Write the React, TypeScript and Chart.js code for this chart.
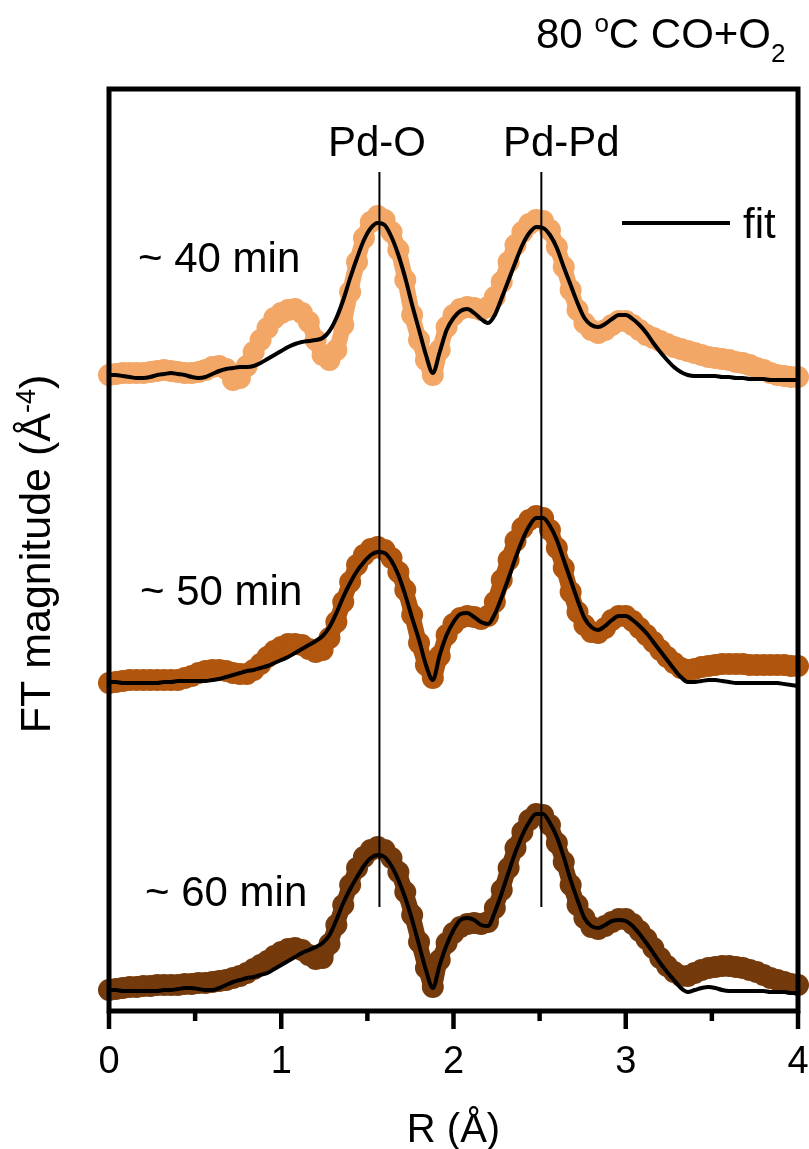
import React, { useEffect, useRef } from "react";
import { Chart, registerables } from "chart.js";

Chart.register(...registerables);

// R grid (Å)
const R = [
  0.00, 0.04, 0.08, 0.12, 0.16, 0.20, 0.24, 0.28, 0.32, 0.36,
  0.40, 0.44, 0.48, 0.52, 0.56, 0.60, 0.64, 0.68, 0.72, 0.76,
  0.80, 0.84, 0.88, 0.92, 0.96, 1.00, 1.04, 1.08, 1.12, 1.16,
  1.20, 1.24, 1.28, 1.32, 1.36, 1.40, 1.44, 1.48, 1.52, 1.56,
  1.60, 1.64, 1.68, 1.72, 1.76, 1.80, 1.84, 1.88, 1.92, 1.96,
  2.00, 2.04, 2.08, 2.12, 2.16, 2.20, 2.24, 2.28, 2.32, 2.36,
  2.40, 2.44, 2.48, 2.52, 2.56, 2.60, 2.64, 2.68, 2.72, 2.76,
  2.80, 2.84, 2.88, 2.92, 2.96, 3.00, 3.04, 3.08, 3.12, 3.16,
  3.20, 3.24, 3.28, 3.32, 3.36, 3.40, 3.44, 3.48, 3.52, 3.56,
  3.60, 3.64, 3.68, 3.72, 3.76, 3.80, 3.84, 3.88, 3.92, 3.96,
  4.00,
];

// ~40 min
const data40 = [
  0.00, 0.01, 0.02, 0.02, 0.02, 0.02, 0.03, 0.04, 0.05, 0.04,
  0.03, 0.02, 0.02, 0.03, 0.05, 0.08, 0.09, 0.06, -0.05, -0.03,
  0.09, 0.23, 0.35, 0.47, 0.57, 0.62, 0.65, 0.66, 0.62, 0.53,
  0.35, 0.20, 0.15, 0.25, 0.50, 0.83, 1.13, 1.37, 1.53, 1.59,
  1.55, 1.43, 1.25, 0.95, 0.60, 0.35, 0.15, 0.00, 0.25, 0.48,
  0.60, 0.66, 0.68, 0.67, 0.65, 0.68, 0.78, 0.93, 1.13, 1.30,
  1.43, 1.51, 1.55, 1.54, 1.45, 1.28, 1.08, 0.85, 0.65, 0.52,
  0.45, 0.42, 0.45, 0.50, 0.54, 0.54, 0.50, 0.45, 0.40, 0.37,
  0.34, 0.31, 0.28, 0.26, 0.24, 0.22, 0.20, 0.18, 0.17, 0.16,
  0.15, 0.13, 0.12, 0.10, 0.07, 0.05, 0.02, 0.00, -0.01, -0.02,
  -0.02,
];
const fit40 = [
  0.00, 0.00, -0.01, -0.02, -0.03, -0.03, -0.02, 0.00, 0.01, 0.02,
  0.01, 0.00, -0.02, -0.03, -0.02, 0.01, 0.04, 0.06, 0.07, 0.08,
  0.08, 0.09, 0.12, 0.16, 0.20, 0.24, 0.28, 0.31, 0.33, 0.34,
  0.35, 0.37, 0.44, 0.57, 0.75, 0.97, 1.17, 1.35, 1.47, 1.52,
  1.50, 1.38, 1.20, 0.97, 0.70, 0.45, 0.20, 0.02, 0.23, 0.45,
  0.57, 0.64, 0.66, 0.62, 0.56, 0.52, 0.60, 0.77, 0.95, 1.13,
  1.30, 1.42, 1.48, 1.47, 1.40, 1.27, 1.08, 0.90, 0.72, 0.57,
  0.50, 0.48, 0.51, 0.56, 0.60, 0.60, 0.56, 0.50, 0.42, 0.32,
  0.23, 0.15, 0.08, 0.03, 0.00, -0.01, -0.01, -0.01, -0.01, -0.02,
  -0.02, -0.03, -0.03, -0.04, -0.04, -0.04, -0.05, -0.05, -0.05, -0.05,
  -0.05,
];

// ~50 min
const data50 = [
  0.00, 0.01, 0.02, 0.03, 0.03, 0.03, 0.03, 0.03, 0.03, 0.03,
  0.03, 0.05, 0.07, 0.10, 0.12, 0.13, 0.13, 0.12, 0.10, 0.09,
  0.09, 0.13, 0.19, 0.26, 0.32, 0.36, 0.39, 0.39, 0.38, 0.34,
  0.31, 0.33, 0.45, 0.61, 0.81, 1.01, 1.18, 1.28, 1.34, 1.36,
  1.33, 1.25, 1.11, 0.93, 0.68, 0.40, 0.18, 0.05, 0.27, 0.48,
  0.59, 0.65, 0.67, 0.66, 0.64, 0.67, 0.81, 1.03, 1.23, 1.42,
  1.55, 1.63, 1.67, 1.65, 1.53, 1.35, 1.15, 0.91, 0.71, 0.58,
  0.51, 0.50, 0.55, 0.63, 0.67, 0.67, 0.62, 0.55, 0.48, 0.41,
  0.33, 0.26, 0.20, 0.15, 0.13, 0.14, 0.16, 0.17, 0.18, 0.19,
  0.19, 0.19, 0.19, 0.18, 0.18, 0.18, 0.18, 0.18, 0.18, 0.17,
  0.17,
];
const fit50 = [
  0.01, 0.01, 0.00, 0.00, 0.00, 0.00, 0.00, 0.00, 0.01, 0.01,
  0.02, 0.02, 0.02, 0.02, 0.02, 0.03, 0.04, 0.06, 0.08, 0.10,
  0.12, 0.13, 0.15, 0.17, 0.20, 0.23, 0.26, 0.30, 0.34, 0.38,
  0.42, 0.47, 0.56, 0.70, 0.86, 1.00, 1.12, 1.21, 1.28, 1.31,
  1.30, 1.22, 1.08, 0.88, 0.65, 0.43, 0.18, 0.03, 0.28, 0.48,
  0.61, 0.69, 0.70, 0.66, 0.61, 0.59, 0.69, 0.86, 1.05, 1.25,
  1.43, 1.57, 1.65, 1.65, 1.57, 1.43, 1.23, 1.03, 0.83, 0.65,
  0.56, 0.53, 0.57, 0.63, 0.67, 0.67, 0.63, 0.57, 0.50, 0.41,
  0.32, 0.23, 0.14, 0.06, 0.01, 0.01, 0.02, 0.03, 0.03, 0.02,
  0.01, 0.00, 0.00, 0.00, 0.00, 0.00, 0.00, 0.00, -0.01, -0.02,
  -0.03,
];

// ~60 min
const data60 = [
  0.00, 0.01, 0.02, 0.03, 0.03, 0.04, 0.04, 0.05, 0.05, 0.05,
  0.05, 0.06, 0.06, 0.07, 0.07, 0.08, 0.09, 0.10, 0.12, 0.14,
  0.17, 0.21, 0.25, 0.29, 0.34, 0.38, 0.41, 0.42, 0.40, 0.35,
  0.31, 0.32, 0.46, 0.65, 0.85, 1.05, 1.22, 1.33, 1.40, 1.43,
  1.40, 1.32, 1.18, 0.98, 0.75, 0.48, 0.22, 0.03, 0.30, 0.47,
  0.57, 0.63, 0.66, 0.67, 0.66, 0.68, 0.82, 1.00, 1.22, 1.42,
  1.58, 1.70, 1.76, 1.75, 1.65, 1.47, 1.28, 1.05, 0.85, 0.72,
  0.63, 0.61, 0.64, 0.68, 0.71, 0.71, 0.66, 0.59, 0.51, 0.42,
  0.32, 0.24, 0.18, 0.14, 0.14, 0.17, 0.20, 0.22, 0.23, 0.24,
  0.24, 0.23, 0.22, 0.20, 0.18, 0.15, 0.12, 0.10, 0.08, 0.06,
  0.05,
];
const fit60 = [
  0.00, 0.00, -0.01, -0.01, -0.01, -0.01, -0.01, -0.01, 0.00, 0.00,
  0.01, 0.02, 0.02, 0.01, 0.00, 0.00, 0.02, 0.05, 0.08, 0.10,
  0.12, 0.13, 0.15, 0.17, 0.21, 0.25, 0.29, 0.33, 0.37, 0.40,
  0.43, 0.47, 0.55, 0.70, 0.87, 1.01, 1.13, 1.24, 1.32, 1.35,
  1.33, 1.24, 1.10, 0.92, 0.70, 0.45, 0.20, 0.02, 0.25, 0.45,
  0.60, 0.70, 0.72, 0.70, 0.65, 0.64, 0.78, 0.97, 1.18, 1.38,
  1.55, 1.68, 1.76, 1.76, 1.67, 1.53, 1.33, 1.10, 0.90, 0.72,
  0.64, 0.62, 0.65, 0.69, 0.70, 0.69, 0.64, 0.56, 0.47, 0.37,
  0.27, 0.18, 0.10, 0.02, -0.02, 0.00, 0.02, 0.03, 0.02, 0.00,
  -0.01, -0.01, -0.01, -0.01, -0.01, -0.01, -0.02, -0.02, -0.02, -0.03,
  -0.03,
];

// vertical stacking offsets
const OFFSET_40 = 6.15;
const OFFSET_50 = 3.07;
const OFFSET_60 = 0;

const SERIES_LABELS = ["~ 40 min", "~ 50 min", "~ 60 min"];
const SERIES_COLORS = ["#F3A766", "#B0560E", "#743A0C"];

// reference lines
const REF_POSITIONS = [1.57, 2.51];
const REF_LABELS = ["Pd-O", "Pd-Pd"];
const REF_TOP = 8.18;
const REF_BOTTOM = 0.83;

// axes
const X_MIN = 0;
const X_MAX = 4;
const Y_MIN = -0.21;
const Y_MAX = 9.01;
const X_MAJOR = [0, 1, 2, 3, 4];
const X_MAJOR_LABELS = ["0", "1", "2", "3", "4"];
const X_MINOR = [0.5, 1.5, 2.5, 3.5];

const FONT = '"Liberation Sans", Arial, Helvetica, sans-serif';

const toPts = (vals: number[], off: number) => R.map((r, i) => ({ x: r, y: vals[i] + off }));

const decorPlugin = {
  id: "decor",
  afterDraw(chart: any) {
    const { ctx, chartArea: a, scales } = chart;
    const xs = scales.x;
    ctx.save();
    // frame
    ctx.strokeStyle = "#000";
    ctx.lineWidth = 5;
    ctx.strokeRect(a.left, a.top, a.right - a.left, a.bottom - a.top);
    // ticks
    ctx.lineWidth = 4.5;
    ctx.lineCap = "butt";
    X_MAJOR.forEach((t) => {
      const px = xs.getPixelForValue(t);
      ctx.beginPath();
      ctx.moveTo(px, a.bottom);
      ctx.lineTo(px, a.bottom + 18);
      ctx.stroke();
    });
    X_MINOR.forEach((t) => {
      const px = xs.getPixelForValue(t);
      ctx.beginPath();
      ctx.moveTo(px, a.bottom);
      ctx.lineTo(px, a.bottom + 10);
      ctx.stroke();
    });
    ctx.fillStyle = "#000";
    ctx.textBaseline = "alphabetic";
    // tick labels
    ctx.font = `38px ${FONT}`;
    ctx.textAlign = "center";
    X_MAJOR.forEach((t, i) => {
      ctx.fillText(X_MAJOR_LABELS[i], xs.getPixelForValue(t), a.bottom + 62);
    });
    // x title
    ctx.font = `40px ${FONT}`;
    ctx.fillText("R (Å)", (a.left + a.right) / 2, 1142);

    // y title (rotated) with superscript
    ctx.save();
    ctx.translate(50, 554);
    ctx.rotate(-Math.PI / 2);
    const mainF = `43px ${FONT}`;
    const supF = `27px ${FONT}`;
    ctx.font = mainF;
    const p1 = "FT magnitude (Å";
    const w1 = ctx.measureText(p1).width;
    ctx.font = supF;
    const w2 = ctx.measureText("-4").width;
    ctx.font = mainF;
    const w3 = ctx.measureText(")").width;
    let sx = -(w1 + w2 + w3) / 2;
    ctx.textAlign = "left";
    ctx.fillText(p1, sx, 0);
    sx += w1;
    ctx.font = supF;
    ctx.fillText("-4", sx, -15);
    sx += w2;
    ctx.font = mainF;
    ctx.fillText(")", sx, 0);
    ctx.restore();

    // title "80 oC CO+O2"
    ctx.textAlign = "left";
    let tx = 536;
    const ty = 48;
    ctx.font = `42px ${FONT}`;
    ctx.fillText("80 ", tx, ty);
    tx += ctx.measureText("80 ").width;
    ctx.font = `26px ${FONT}`;
    ctx.fillText("o", tx, ty - 16);
    tx += ctx.measureText("o").width;
    ctx.font = `42px ${FONT}`;
    ctx.fillText("C CO+O", tx, ty);
    tx += ctx.measureText("C CO+O").width;
    ctx.font = `26px ${FONT}`;
    ctx.fillText("2", tx, ty + 14);

    // reference labels
    ctx.font = `42px ${FONT}`;
    ctx.textAlign = "center";
    ctx.fillText(REF_LABELS[0], 377, 156);
    ctx.textAlign = "left";
    ctx.fillText(REF_LABELS[1], 503, 156);

    // series labels
    ctx.fillText(SERIES_LABELS[0], 138, 272);
    ctx.fillText(SERIES_LABELS[1], 140, 605);
    ctx.fillText(SERIES_LABELS[2], 145, 906);

    // legend
    ctx.lineWidth = 4;
    ctx.beginPath();
    ctx.moveTo(622, 223);
    ctx.lineTo(730, 223);
    ctx.stroke();
    ctx.fillText("fit", 743, 238);

    ctx.restore();
  },
};

export default function App() {
  const ref = useRef<HTMLCanvasElement | null>(null);
  useEffect(() => {
    if (!ref.current) return;
    const dataSets = [data40, data50, data60];
    const fitSets = [fit40, fit50, fit60];
    const offsets = [OFFSET_40, OFFSET_50, OFFSET_60];
    const datasets: any[] = [];
    REF_POSITIONS.forEach((rp, i) => {
      datasets.push({
        label: REF_LABELS[i],
        data: [
          { x: rp, y: REF_BOTTOM },
          { x: rp, y: REF_TOP },
        ],
        borderColor: "#000",
        borderWidth: 2,
        pointRadius: 0,
        order: -1,
        clip: false,
      });
    });
    fitSets.forEach((f, i) => {
      datasets.push({
        label: "fit " + SERIES_LABELS[i],
        data: toPts(f, offsets[i]),
        borderColor: "#000",
        borderWidth: 4,
        pointRadius: 0,
        cubicInterpolationMode: "monotone",
        order: 0,
        clip: false,
      });
    });
    dataSets.forEach((d, i) => {
      datasets.push({
        label: SERIES_LABELS[i],
        data: toPts(d, offsets[i]),
        borderColor: SERIES_COLORS[i],
        backgroundColor: SERIES_COLORS[i],
        pointBackgroundColor: SERIES_COLORS[i],
        pointBorderColor: SERIES_COLORS[i],
        pointBorderWidth: 0,
        pointRadius: 11,
        borderWidth: 16,
        cubicInterpolationMode: "monotone",
        order: 1,
        clip: false,
      });
    });
    const chart = new Chart(ref.current, {
      type: "line",
      data: { datasets },
      options: {
        animation: false,
        responsive: false,
        devicePixelRatio: 1,
        layout: { padding: { left: 109, right: 9, top: 89, bottom: 138 } },
        scales: {
          x: { type: "linear", min: X_MIN, max: X_MAX, display: false },
          y: { type: "linear", min: Y_MIN, max: Y_MAX, display: false },
        },
        plugins: {
          legend: { display: false },
          tooltip: { enabled: false },
          title: { display: false },
        },
        events: [],
      },
      plugins: [decorPlugin],
    });
    return () => chart.destroy();
  }, []);
  return (
    <div style={{ position: "absolute", left: 0, top: 0, width: 809, height: 1149, background: "#fff" }}>
      <canvas ref={ref} width={809} height={1149} style={{ display: "block" }} />
    </div>
  );
}
